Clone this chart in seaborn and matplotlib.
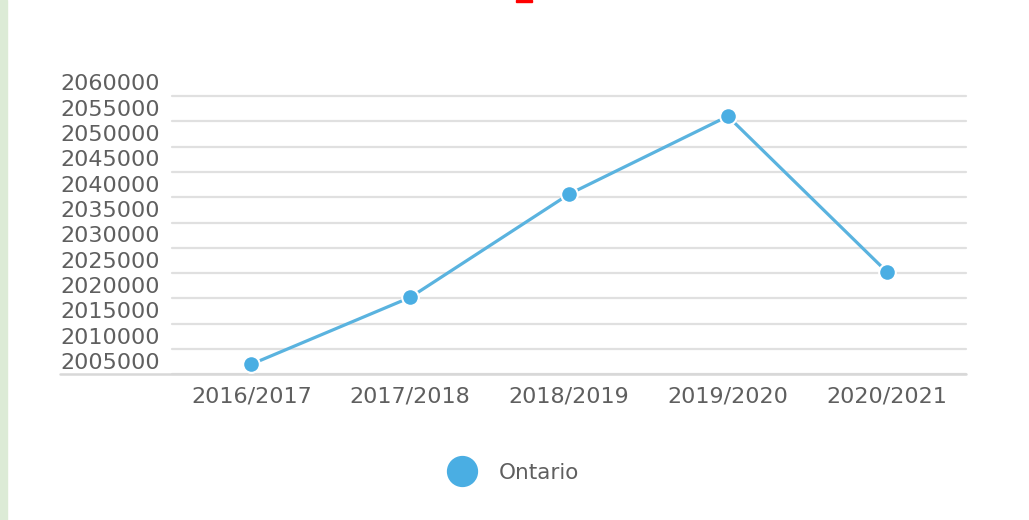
import matplotlib
matplotlib.use("Agg")
import matplotlib.pyplot as plt
import seaborn as sns
import pandas as pd
from matplotlib.transforms import ScaledTranslation
from matplotlib.lines import Line2D
from matplotlib.patches import Rectangle

# ---- data ----
years = ["2016/2017", "2017/2018", "2018/2019", "2019/2020", "2020/2021"]
ontario = [2007000, 2020200, 2040600, 2056000, 2025300]
y_ticks = [2005000, 2010000, 2015000, 2020000, 2025000, 2030000,
           2035000, 2040000, 2045000, 2050000, 2055000, 2060000]
y_tick_labels = [str(v) for v in y_ticks]
series_name = "Ontario"

line_color = "#5ab3df"
point_color = "#4aaee3"
text_color = "#5f5f5f"
grid_color = "#e0e0e0"

sns.set_theme(style="white")
plt.rcParams["font.family"] = ["DejaVu Sans"]

fig = plt.figure(figsize=(10.29, 5.2), dpi=100)
ax = fig.add_axes([172 / 1029, 1 - 374.3 / 520, (966 - 172) / 1029, (374.3 - 96) / 520])

df = pd.DataFrame({"year": years, "value": ontario})
sns.lineplot(data=df, x="year", y="value", ax=ax, color=line_color,
             linewidth=2.3, marker="o", markersize=12,
             markerfacecolor=point_color, markeredgecolor="white",
             markeredgewidth=1.5, legend=False, sort=False, zorder=3)

ax.set_xlim(-0.5, 4.5)
ax.set_ylim(y_ticks[0], y_ticks[-1])
ax.set_yticks(y_ticks)
ax.set_yticklabels(y_tick_labels)
ax.grid(axis="y", color=grid_color, linewidth=1.6)
ax.grid(axis="x", visible=False)
for gl in ax.yaxis.get_gridlines():
    gl.set_clip_on(False)
for s in ax.spines.values():
    s.set_visible(False)
ax.set_xlabel("")
ax.set_ylabel("")
ax.tick_params(axis="both", length=0, labelsize=16, colors=text_color)
ax.tick_params(axis="y", pad=9)
ax.tick_params(axis="x", pad=9)

# labels sit just above their gridlines
offset = ScaledTranslation(0, 0.135, fig.dpi_scale_trans)
for lab in ax.get_yticklabels():
    lab.set_transform(lab.get_transform() + offset)

# bottom baseline extends under the labels
ax.axhline(y_ticks[0], xmin=-(172 - 60) / (966 - 172), xmax=1.0, color="#d8d8d8",
           linewidth=1.8, clip_on=False, zorder=1)

# legend
handle = Line2D([], [], marker="o", linestyle="none", markersize=21.5,
                markerfacecolor=point_color, markeredgecolor=point_color)
fig.legend([handle], [series_name], loc="center", bbox_to_anchor=(0.4956, 0.0904),
           frameon=False, fontsize=15.5, labelcolor=text_color,
           handletextpad=0.68)

# page decorations
fig.add_artist(Rectangle((0, 0), 7 / 1029, 1, transform=fig.transFigure,
                         color="#dcebd6", zorder=0))
fig.add_artist(Rectangle((516 / 1029, 1 - 2 / 520), 16 / 1029, 2 / 520,
                         transform=fig.transFigure, color="#ff0000", zorder=0))

fig.savefig("out.png", dpi=100)
